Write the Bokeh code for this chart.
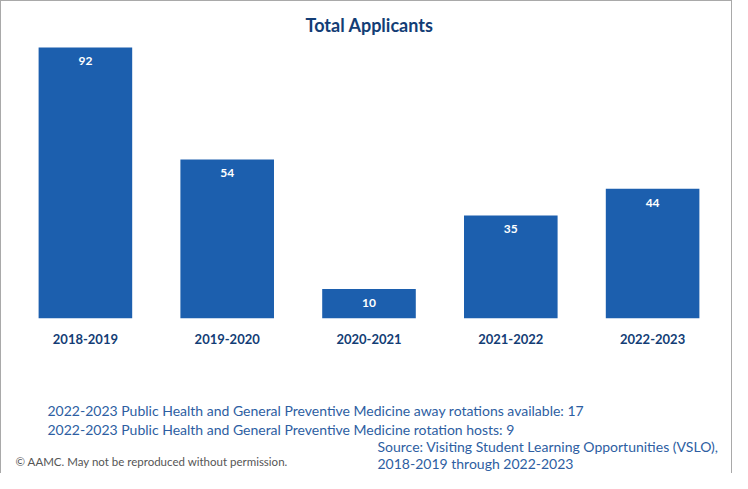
from bokeh.plotting import figure
from bokeh.models import Label, FactorRange, ColumnDataSource
from bokeh.layouts import column
from bokeh.core.properties import value
from bokeh.embed import file_html
from bokeh.resources import INLINE

years = ["2018-2019", "2019-2020", "2020-2021", "2021-2022", "2022-2023"]
applicants = [92, 54, 10, 35, 44]
title_text = "Total Applicants"
note1 = "2022-2023 Public Health and General Preventive Medicine away rotations available: 17"
note2 = "2022-2023 Public Health and General Preventive Medicine rotation hosts: 9"
source1 = "Source: Visiting Student Learning Opportunities (VSLO),"
source2 = "2018-2019 through 2022-2023"
copyright_text = "\u00a9 AAMC. May not be reproduced without permission."

BAR = "#1c5fae"
NAVY = "#133d75"
NOTE = "#2d5ea2"
FONT = "Lato"
W = 730
FL, FR = 13, 8

src = ColumnDataSource(dict(x=years, y=applicants, lbl=[str(v) for v in applicants]))

p = figure(x_range=FactorRange(*years), y_range=(0, 107.6), width=W, height=357,
           output_backend="svg", toolbar_location=None,
           min_border_left=FL, min_border_right=FR, min_border_top=0, min_border_bottom=40)
p.x_range.range_padding = 0
p.vbar(x="x", top="y", width=0.66, source=src, color=BAR, line_color=None)
p.text(x="x", y="y", text="lbl", source=src, y_offset=14, text_align="center",
       text_baseline="middle", text_color="white", text_font=value(FONT),
       text_font_style="bold", text_font_size="12px")

p.yaxis.visible = False
p.grid.visible = False
p.outline_line_color = None
xa = p.xaxis[0]
xa.axis_line_color = None
xa.major_tick_line_color = None
xa.minor_tick_line_color = None
xa.major_label_text_font = FONT
xa.major_label_text_font_style = "bold"
xa.major_label_text_font_size = "13px"
xa.major_label_text_color = NAVY
xa.major_label_standoff = 9

p.add_layout(Label(x=355, y=294, x_units="screen", y_units="screen", text=title_text,
                   text_align="center", text_baseline="middle", text_font=FONT,
                   text_font_style="bold", text_font_size="18px", text_color=NAVY))

NH = 115
n = figure(x_range=(FL, W - FR), y_range=(0, NH), width=W, height=NH,
           output_backend="svg", toolbar_location=None,
           x_axis_location=None, y_axis_location=None,
           min_border_left=FL, min_border_right=FR, min_border_top=0, min_border_bottom=0)
n.grid.visible = False
n.outline_line_color = None

def note(x, y, t, color=NOTE, size="14px"):
    n.text(x=[x], y=[y], text=[t], text_align="left", text_baseline="middle",
           text_font=value(FONT), text_font_size=size, text_color=color)

note(46, 63, note1)
note(46, 44, note2)
note(376, 27, source1)
note(376, 10, source2)
note(14, 12, copyright_text, color="#555555", size="11.5px")

layout = column(p, n, spacing=0,
                styles={"border-top": "1px solid #a9a9a9", "border-left": "1px solid #a9a9a9",
                        "border-right": "1px solid #a9a9a9"})

open("out.html", "w").write(file_html(layout, INLINE))
